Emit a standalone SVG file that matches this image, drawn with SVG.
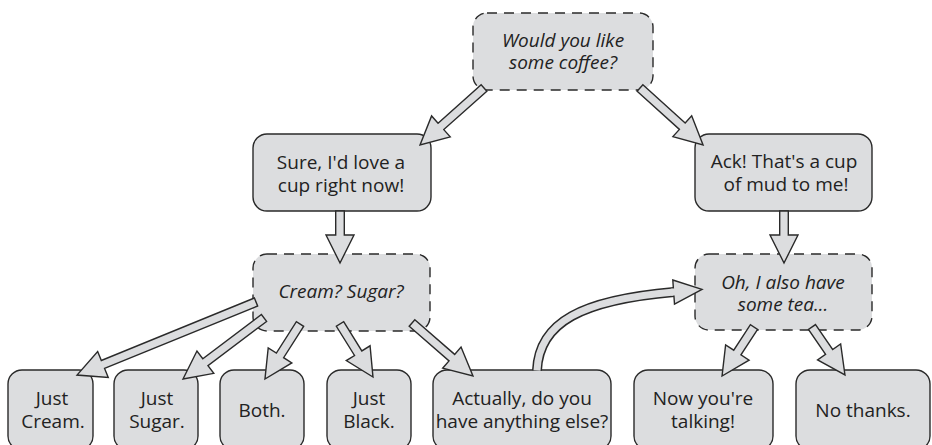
<svg xmlns="http://www.w3.org/2000/svg" width="932" height="445" viewBox="0 0 932 445">
  <style>
    .box { fill: #dcdddf; stroke: #2a2a2a; stroke-width: 1.4; }
    .ask { stroke-dasharray: 10 7; }
    .t { font-family: "Open Sans", "Noto Sans", "Liberation Sans", sans-serif; font-size: 19px; fill: #222; text-anchor: middle; }
    .i { font-style: italic; }
    .arr { fill: #dcdddf; stroke: #2a2a2a; stroke-width: 1.4; stroke-linejoin: miter; }
  </style>
  <rect width="932" height="445" fill="#ffffff"/>

  <!-- nodes -->
  <g id="n-coffee">
    <rect class="box ask" x="473" y="13" width="180" height="77" rx="14"/>
    <text class="t i" x="563" y="47">Would you like</text>
    <text class="t i" x="563" y="69">some coffee?</text>
  </g>
  <g id="n-sure">
    <rect class="box" x="253" y="134" width="178" height="77" rx="14"/>
    <text class="t" x="341" y="169">Sure, I'd love a</text>
    <text class="t" x="341" y="192">cup right now!</text>
  </g>
  <g id="n-ack">
    <rect class="box" x="695" y="134" width="177" height="77" rx="14"/>
    <text class="t" x="784" y="168">Ack! That's a cup</text>
    <text class="t" x="786" y="191">of mud to me!</text>
  </g>
  <g id="n-cream-sugar">
    <rect class="box ask" x="253" y="254" width="177" height="77" rx="14"/>
    <text class="t i" x="341" y="298">Cream? Sugar?</text>
  </g>
  <g id="n-tea">
    <rect class="box ask" x="695" y="254" width="177" height="76" rx="14"/>
    <text class="t i" x="783" y="289">Oh, I also have</text>
    <text class="t i" x="783" y="311">some tea...</text>
  </g>
  <g id="n-just-cream">
    <rect class="box" x="8" y="370" width="85" height="80" rx="14"/>
    <text class="t" x="52" y="405">Just</text>
    <text class="t" x="53" y="428">Cream.</text>
  </g>
  <g id="n-just-sugar">
    <rect class="box" x="114" y="370" width="84" height="80" rx="14"/>
    <text class="t" x="157" y="405">Just</text>
    <text class="t" x="157" y="428">Sugar.</text>
  </g>
  <g id="n-both">
    <rect class="box" x="220" y="370" width="84" height="80" rx="14"/>
    <text class="t" x="262" y="417">Both.</text>
  </g>
  <g id="n-just-black">
    <rect class="box" x="327" y="370" width="84" height="80" rx="14"/>
    <text class="t" x="369" y="405">Just</text>
    <text class="t" x="369" y="428">Black.</text>
  </g>
  <g id="n-anything-else">
    <rect class="box" x="433" y="370" width="178" height="80" rx="14"/>
    <text class="t" x="522" y="405">Actually, do you</text>
    <text class="t" x="522" y="428">have anything else?</text>
  </g>
  <g id="n-talking">
    <rect class="box" x="634" y="370" width="139" height="80" rx="14"/>
    <text class="t" x="703" y="405">Now you're</text>
    <text class="t" x="703" y="428">talking!</text>
  </g>
  <g id="n-no-thanks">
    <rect class="box" x="796" y="370" width="134" height="80" rx="14"/>
    <text class="t" x="863" y="417">No thanks.</text>
  </g>

  <!-- connectors: block arrows, drawn along +x then placed -->
  <g id="connectors">
    <polygon class="arr" transform="translate(484,88) rotate(138.3)" points="0,-4.3 57.7,-4.3 57.7,-14 85.7,0 57.7,14 57.7,4.3 0,4.3"/>
    <polygon class="arr" transform="translate(640,88) rotate(42.1)" points="0,-4.3 57,-4.3 57,-14 85,0 57,14 57,4.3 0,4.3"/>
    <polygon class="arr" transform="translate(340,211) rotate(90)" points="0,-4.3 24,-4.3 24,-14 52,0 24,14 24,4.3 0,4.3"/>
    <polygon class="arr" transform="translate(784,211) rotate(90)" points="0,-4.3 24,-4.3 24,-14 52,0 24,14 24,4.3 0,4.3"/>
    <polygon class="arr" transform="translate(256,302) rotate(157.8)" points="0,-4.3 165.3,-4.3 165.3,-14 193.3,0 165.3,14 165.3,4.3 0,4.3"/>
    <polygon class="arr" transform="translate(264,318) rotate(143)" points="0,-4.3 73.4,-4.3 73.4,-14 101.4,0 73.4,14 73.4,4.3 0,4.3"/>
    <polygon class="arr" transform="translate(300,324) rotate(122.5)" points="0,-4.3 37.2,-4.3 37.2,-14 65.2,0 37.2,14 37.2,4.3 0,4.3"/>
    <polygon class="arr" transform="translate(340,324) rotate(58.1)" points="0,-4.3 34.4,-4.3 34.4,-14 62.4,0 34.4,14 34.4,4.3 0,4.3"/>
    <polygon class="arr" transform="translate(412,323) rotate(41)" points="0,-4.3 52.8,-4.3 52.8,-14 80.8,0 52.8,14 52.8,4.3 0,4.3"/>
    <polygon class="arr" transform="translate(754,327) rotate(123.1)" points="0,-4.3 30.5,-4.3 30.5,-14 58.5,0 30.5,14 30.5,4.3 0,4.3"/>
    <polygon class="arr" transform="translate(812,327) rotate(55.5)" points="0,-4.3 30.2,-4.3 30.2,-14 58.2,0 30.2,14 30.2,4.3 0,4.3"/>
    <!-- curved arrow back up to the tea question -->
    <g id="e-else-tea">
      <path d="M537,370.5 C539,322 582,300 674,292" fill="none" stroke="#2a2a2a" stroke-width="10"/>
      <path d="M537,370.5 C539,322 582,300 674,292" fill="none" stroke="#dcdddf" stroke-width="7"/>
      <polygon class="arr" points="672.8,280 702,289.3 674.5,304"/>
      <path d="M671,292.2 L676,291.8" stroke="#dcdddf" stroke-width="7"/>
    </g>
  </g>
</svg>
